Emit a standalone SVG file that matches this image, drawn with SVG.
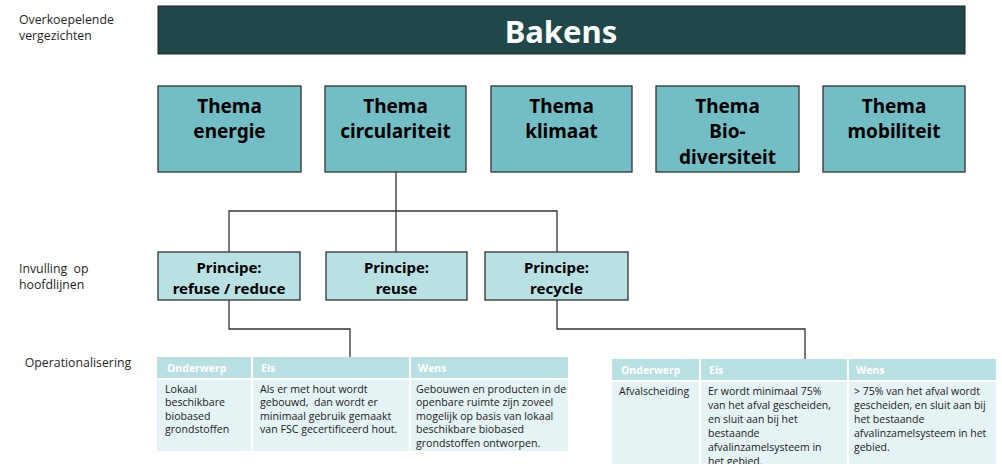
<svg xmlns="http://www.w3.org/2000/svg" width="1002" height="464" viewBox="0 0 1002 464">
<style>
.lbl{font-family:"Open Sans","Noto Sans",sans-serif;font-size:12.3px;fill:#262626}
.theme{fill:#72BEC4;stroke:#333;stroke-width:1.3}
.prin{fill:#B9E0E3;stroke:#333;stroke-width:1.3}
.tt{font-family:"Noto Sans","Open Sans",sans-serif;font-weight:bold;font-size:19px;fill:#000;text-anchor:middle}
.pt{font-family:"Noto Sans","Open Sans",sans-serif;font-weight:bold;font-size:15px;fill:#000;text-anchor:middle}
.hd{fill:#B9E0E3}
.bd{fill:#E6F3F4}
.ht{font-family:"Open Sans","Noto Sans",sans-serif;font-weight:bold;font-size:10.5px;fill:#fff}
.bt{font-family:"Open Sans","Noto Sans",sans-serif;font-size:10.6px;fill:#222}
.bt2{font-family:"Open Sans","Noto Sans",sans-serif;font-size:10.5px;fill:#222}
.con{fill:none;stroke:#333;stroke-width:1.3}
.sep{stroke:#fff;stroke-width:2}
</style>
<g id="labels">
<text class="lbl" x="19" y="23.5">Overkoepelende</text>
<text class="lbl" x="19" y="39.5">vergezichten</text>
<text class="lbl" x="19" y="273" xml:space="preserve">Invulling  op</text>
<text class="lbl" x="19" y="289">hoofdlijnen</text>
<text class="lbl" x="78" y="367" text-anchor="middle">Operationalisering</text>
</g>
<g id="connectors">
<path class="con" d="M396,172 V211 M229,252 V211 H557 V252 M396,211 V252"/>
<path class="con" d="M229,300 V329 H350 V357"/>
<path class="con" d="M557,300 V329 H805 V359"/>
</g>
<g id="bakens">
<rect x="158" y="6" width="807" height="48" fill="#20474A" stroke="#222" stroke-width="1"/>
<text x="561" y="43" text-anchor="middle" font-family="Noto Sans,Open Sans,sans-serif" font-weight="bold" font-size="31" fill="#fff">Bakens</text>
</g>
<g id="thema-energie">
<rect class="theme" x="158" y="86" width="143" height="86"/>
<text class="tt" x="229.5" y="113">Thema</text>
<text class="tt" x="229.5" y="138">energie</text>
</g>
<g id="thema-circulariteit">
<rect class="theme" x="325" y="86" width="141" height="86"/>
<text class="tt" x="395.5" y="113">Thema</text>
<text class="tt" x="395.5" y="138">circulariteit</text>
</g>
<g id="thema-klimaat">
<rect class="theme" x="491" y="86" width="141" height="86"/>
<text class="tt" x="561.5" y="113">Thema</text>
<text class="tt" x="561.5" y="138">klimaat</text>
</g>
<g id="thema-biodiversiteit">
<rect class="theme" x="656" y="86" width="143" height="86"/>
<text class="tt" x="727.5" y="113">Thema</text>
<text class="tt" x="727.5" y="138">Bio-</text>
<text class="tt" x="727.5" y="164">diversiteit</text>
</g>
<g id="thema-mobiliteit">
<rect class="theme" x="823" y="86" width="142" height="86"/>
<text class="tt" x="894" y="113">Thema</text>
<text class="tt" x="894" y="138">mobiliteit</text>
</g>
<g id="principe-refuse">
<rect class="prin" x="158" y="252" width="142" height="48"/>
<text class="pt" x="229" y="273">Principe:</text>
<text class="pt" x="229" y="294">refuse / reduce</text>
</g>
<g id="principe-reuse">
<rect class="prin" x="326" y="252" width="141" height="48"/>
<text class="pt" x="396.5" y="273">Principe:</text>
<text class="pt" x="396.5" y="294">reuse</text>
</g>
<g id="principe-recycle">
<rect class="prin" x="485" y="252" width="143" height="48"/>
<text class="pt" x="556.5" y="273">Principe:</text>
<text class="pt" x="556.5" y="294">recycle</text>
</g>
<g id="tabel-refuse">
<rect class="hd" x="157" y="357" width="411" height="21"/>
<rect class="bd" x="157" y="380" width="411" height="71"/>
<line class="sep" x1="252" y1="357" x2="252" y2="451"/>
<line class="sep" x1="410" y1="357" x2="410" y2="451"/>
<text class="ht" x="167" y="372">Onderwerp</text>
<text class="ht" x="261" y="372">Eis</text>
<text class="ht" x="418" y="372">Wens</text>
<text class="bt" x="165" y="393">Lokaal</text>
<text class="bt" x="165" y="406.4">beschikbare</text>
<text class="bt" x="165" y="419.8">biobased</text>
<text class="bt" x="165" y="433.2">grondstoffen</text>
<text class="bt" x="260" y="393">Als er met hout wordt</text>
<text class="bt" x="260" y="406.4" xml:space="preserve">gebouwd,  dan wordt er</text>
<text class="bt" x="260" y="419.8">minimaal gebruik gemaakt</text>
<text class="bt" x="260" y="433.2">van FSC gecertificeerd hout.</text>
<text class="bt" x="416" y="393">Gebouwen en producten in de</text>
<text class="bt" x="416" y="406.4">openbare ruimte zijn zoveel</text>
<text class="bt" x="416" y="419.8">mogelijk op basis van lokaal</text>
<text class="bt" x="416" y="433.2">beschikbare biobased</text>
<text class="bt" x="416" y="446.6">grondstoffen ontworpen.</text>
</g>
<g id="tabel-recycle">
<rect class="hd" x="612" y="359" width="384" height="21"/>
<rect class="bd" x="612" y="382" width="384" height="82"/>
<line class="sep" x1="700" y1="359" x2="700" y2="464"/>
<line class="sep" x1="848" y1="359" x2="848" y2="464"/>
<text class="ht" x="621" y="374">Onderwerp</text>
<text class="ht" x="709" y="374">Eis</text>
<text class="ht" x="856" y="374">Wens</text>
<text class="bt2" x="619" y="395">Afvalscheiding</text>
<text class="bt2" x="708" y="395">Er wordt minimaal 75%</text>
<text class="bt2" x="708" y="409">van het afval gescheiden,</text>
<text class="bt2" x="708" y="423">en sluit aan bij het</text>
<text class="bt2" x="708" y="437">bestaande</text>
<text class="bt2" x="708" y="451">afvalinzamelsysteem in</text>
<text class="bt2" x="708" y="465">het gebied.</text>
<text class="bt2" x="854" y="395">&gt; 75% van het afval wordt</text>
<text class="bt2" x="854" y="409">gescheiden, en sluit aan bij</text>
<text class="bt2" x="854" y="423">het bestaande</text>
<text class="bt2" x="854" y="437">afvalinzamelsysteem in het</text>
<text class="bt2" x="854" y="451">gebied.</text>
</g>
</svg>
